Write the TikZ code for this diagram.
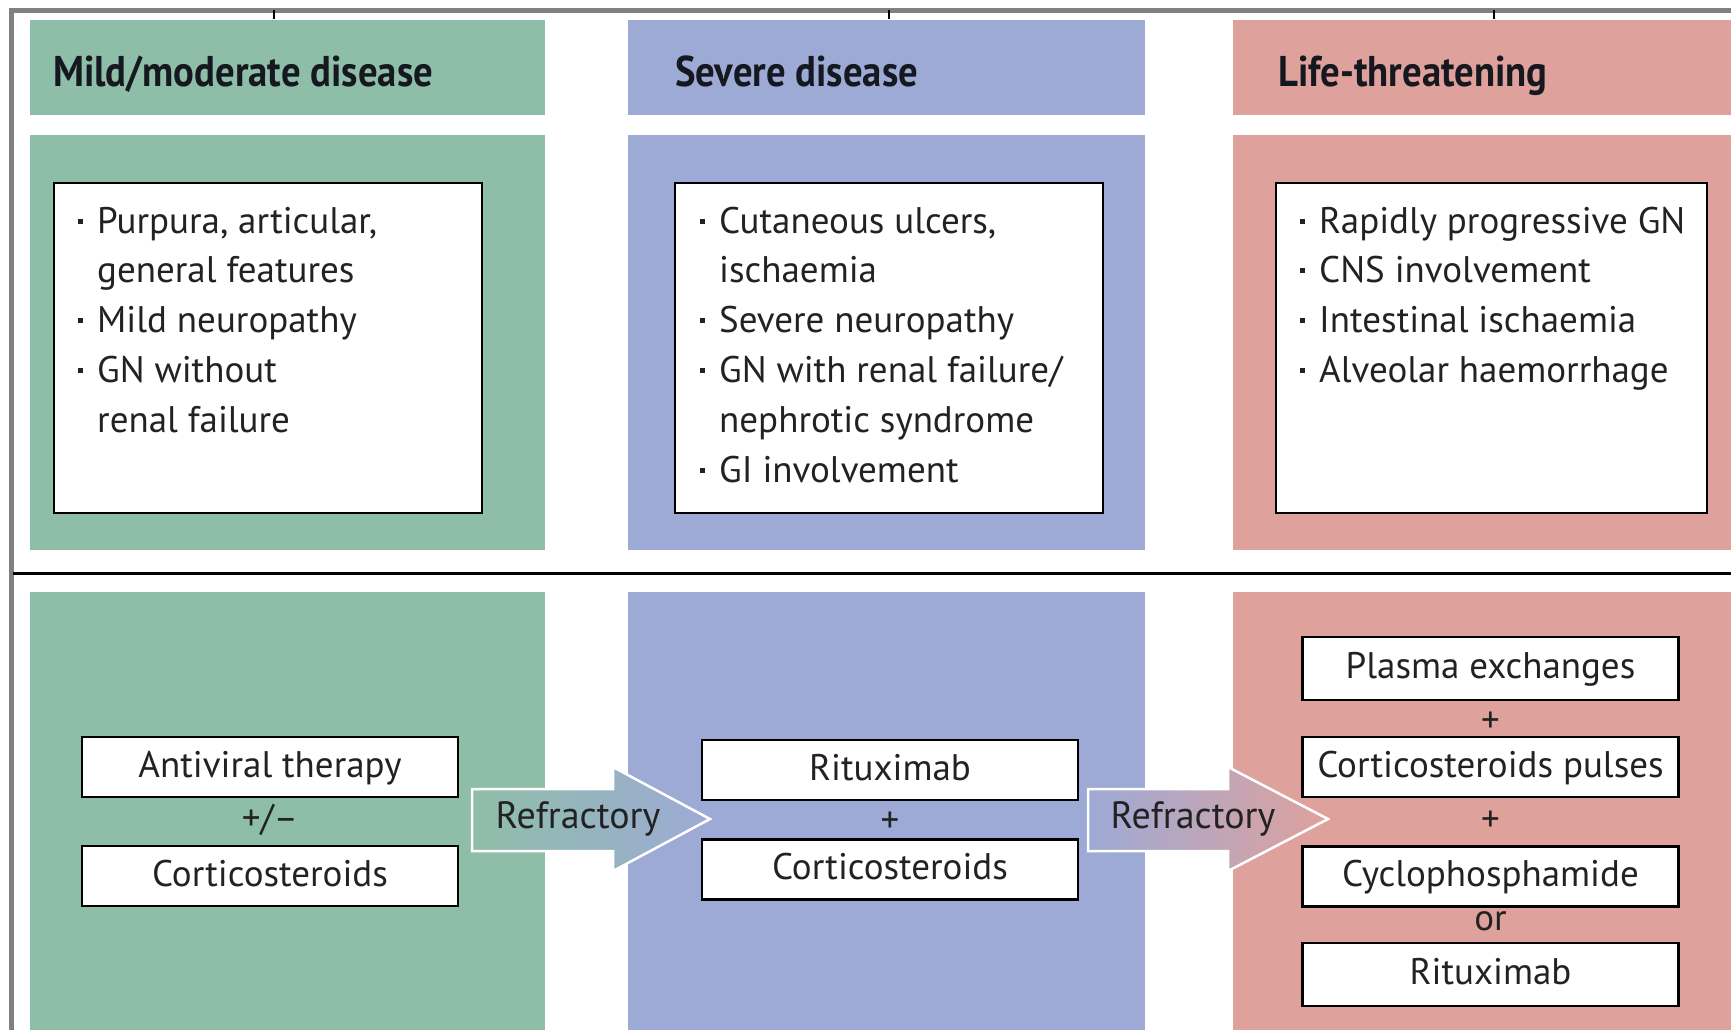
\documentclass[tikz,border=0pt]{standalone}
\usepackage{fontspec}
\setmainfont{PT Sans}
\newfontfamily\hdrfamily{PT Sans}[FakeStretch=0.9]
\definecolor{grn}{HTML}{8FBEA8}
\definecolor{blu}{HTML}{9DAAD6}
\definecolor{pnk}{HTML}{DFA19C}
\definecolor{txt}{HTML}{222222}
\definecolor{hdrtxt}{HTML}{15181F}
\definecolor{framegray}{HTML}{808080}
\newcommand\bodyfont{\fontsize{37}{50}\selectfont}
\newcommand\hdrfont{\hdrfamily\fontsize{43}{50}\selectfont\bfseries}
\newcommand\arrfont{\fontsize{38}{46}\selectfont}
\newcommand\bul{\makebox[19.5pt][l]{\rule[9pt]{5pt}{5pt}}}
\begin{document}
\begin{tikzpicture}[x=1pt,y=-1pt,
  panel/.style={inner sep=0pt, outer sep=0pt, anchor=north west, draw=none},
  listbox/.style={panel, draw=black, fill=white, line width=2.5pt},
  hdr/.style={font=\hdrfont, text=hdrtxt, inner sep=0pt, anchor=base west},
  item/.style={font=\bodyfont, text=txt, inner sep=0pt, anchor=base west},
  tbox/.style={draw=black, fill=white, line width=2.5pt, minimum width=376pt, minimum height=60pt,
     inner sep=0pt, font=\bodyfont, text=txt, text height=27pt, text depth=7pt},
  joiner/.style={font=\bodyfont, text=txt, inner sep=0pt},
  blockarrow/.style={draw=white, line width=2.5pt, line join=miter},
  arrowtext/.style={font=\arrfont, text=txt, inner sep=0pt}
]
\clip (0,0) rectangle (1731,1029);
\fill[white] (0,0) rectangle (1731,1029);

% outer frame and separator
\draw[framegray, line width=5pt] (11,1040) -- (11,10) -- (1740,10);
\draw[line width=2pt] (274,10) -- (274,19);
\draw[line width=2pt] (889,10) -- (889,19);
\draw[line width=2pt] (1494,10) -- (1494,19);
\draw[black, line width=3pt] (13,573) -- (1740,573);

% column panels
\node[panel, fill=grn, minimum width=515pt, minimum height=95pt] (hg) at (30,20) {};
\node[panel, fill=blu, minimum width=517pt, minimum height=95pt] (hb) at (628,20) {};
\node[panel, fill=pnk, minimum width=510pt, minimum height=95pt] (hr) at (1233,20) {};
\node[panel, fill=grn, minimum width=515pt, minimum height=415pt] (mg) at (30,135) {};
\node[panel, fill=blu, minimum width=517pt, minimum height=415pt] (mb) at (628,135) {};
\node[panel, fill=pnk, minimum width=510pt, minimum height=415pt] (mr) at (1233,135) {};
\node[panel, fill=grn, minimum width=515pt, minimum height=450pt] (bg) at (30,592) {};
\node[panel, fill=blu, minimum width=517pt, minimum height=450pt] (bb) at (628,592) {};
\node[panel, fill=pnk, minimum width=510pt, minimum height=450pt] (br) at (1233,592) {};

% headers
\node[hdr] (tg) at (53,86) {Mild/moderate disease};
\node[hdr] (tb) at (675,86) {Severe disease};
\node[hdr] (tr) at (1278,86) {Life-threatening};

% list boxes
\node[listbox, minimum width=428pt, minimum height=330pt] (lg) at (54,183) {};
\node[listbox, minimum width=428pt, minimum height=330pt] (lb) at (675,183) {};
\node[listbox, minimum width=431pt, minimum height=330pt] (lr) at (1276,183) {};

\node[item] (g1) at (77.5,233) {\bul Purpura, articular,};
\node[item] (g2) at (97,282) {general features};
\node[item] (g3) at (77.5,332) {\bul Mild neuropathy};
\node[item] (g4) at (77.5,382) {\bul GN without};
\node[item] (g5) at (97,432) {renal failure};

\node[item] (b1) at (699.5,233) {\bul Cutaneous ulcers,};
\node[item] (b2) at (719,282) {ischaemia};
\node[item] (b3) at (699.5,332) {\bul Severe neuropathy};
\node[item] (b4) at (699.5,382) {\bul GN with renal failure/};
\node[item] (b5) at (719,432) {nephrotic syndrome};
\node[item] (b6) at (699.5,482) {\bul GI involvement};

\node[item] (r1) at (1299.5,233) {\bul Rapidly progressive GN};
\node[item] (r2) at (1299.5,282) {\bul CNS involvement};
\node[item] (r3) at (1299.5,332) {\bul Intestinal ischaemia};
\node[item] (r4) at (1299.5,382) {\bul Alveolar haemorrhage};

% refractory block arrows
\shade[blockarrow, left color=grn, right color=blu]
  (472,789) -- (613,789) -- (613,767) -- (710,819) -- (613,871) -- (613,851) -- (472,851) -- cycle;
\node[arrowtext] (ra1) at (578,819) {Refractory};
\shade[blockarrow, left color=blu, right color=pnk]
  (1088,789) -- (1228,789) -- (1228,767) -- (1328,819) -- (1228,871) -- (1228,851) -- (1088,851) -- cycle;
\node[arrowtext] (ra2) at (1193,819) {Refractory};

% treatment boxes
\node[tbox] (av) at (270,767) {Antiviral therapy};
\node[joiner] (j1) at (270,820) {+/–};
\node[tbox] (cg) at (270,876) {Corticosteroids};

\node[tbox] (rb) at (890,770) {Rituximab};
\node[joiner] (j2) at (890,822) {+};
\node[tbox] (cb) at (890,869.5) {Corticosteroids};

\node[tbox, minimum height=63pt] (pe) at (1490.5,668.5) {Plasma exchanges};
\node[joiner] (j3) at (1490.5,722) {+};
\node[tbox] (cp) at (1490.5,767) {Corticosteroids pulses};
\node[joiner] (j4) at (1490.5,821) {+};
\node[tbox] (cy) at (1490.5,876.5) {Cyclophosphamide};
\node[joiner] (j5) at (1490.5,921) {or};
\node[tbox, minimum height=63pt] (rr) at (1490.5,974.5) {Rituximab};
\end{tikzpicture}
\end{document}
